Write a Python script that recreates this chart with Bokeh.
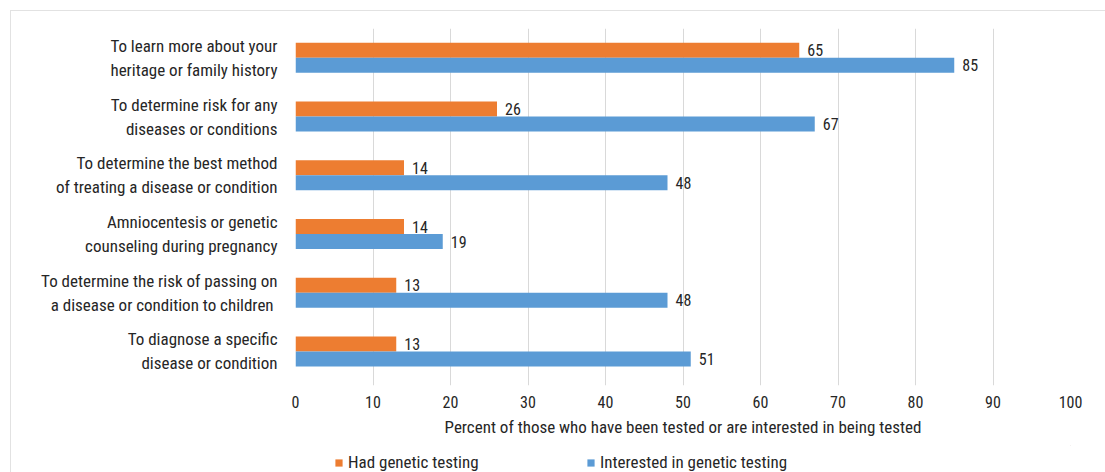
from bokeh.plotting import figure
from bokeh.layouts import column
from bokeh.models import ColumnDataSource, Range1d, FixedTicker, Legend, LegendItem, LabelSet
from bokeh.transform import dodge
from bokeh.core.properties import value
from bokeh.embed import file_html
from bokeh.resources import INLINE

categories = [
    "To learn more about your\nheritage or family history",
    "To determine risk for any\ndiseases or conditions",
    "To determine the best method\nof treating a disease or condition",
    "Amniocentesis or genetic\ncounseling during pregnancy",
    "To determine the risk of passing on\na disease  or condition to children",
    "To diagnose a specific\ndisease or condition",
]
had = [65, 26, 14, 14, 13, 13]
interested = [85, 67, 48, 19, 48, 51]
series_names = ["Had genetic testing", "Interested in genetic testing"]
colors = ["#ED7D31", "#5B9BD5"]
x_ticks = [0, 10, 20, 30, 40, 50, 60, 70, 80, 90, 100]
x_title = "Percent of those who have been tested or are interested in being tested"

FONT = "Liberation Sans Narrow, Roboto Condensed, Roboto"
TXT = "#262626"
BORDER = "#e2e2e2"

idx = list(range(len(categories)))
src = ColumnDataSource(dict(
    y=idx, had=had, interested=interested,
    had_lbl=[str(v) for v in had], int_lbl=[str(v) for v in interested],
))

p = figure(width=1105, height=445, output_backend="svg", toolbar_location=None,
           x_range=Range1d(0, 100), y_range=Range1d(5.58, -0.5),
           min_border_left=295, min_border_right=35, min_border_top=28, min_border_bottom=60)
p.outline_line_color = None
p.background_fill_color = "white"
p.border_fill_alpha = 0
p.styles = {"background": (f"linear-gradient({BORDER},{BORDER}) 10px 10px / 1px 100% no-repeat, "
                           f"linear-gradient({BORDER},{BORDER}) 10px 10px / 100% 1px no-repeat, white")}

bh = 0.2555
off = 0.1278
r1 = p.hbar(y=dodge("y", -off, range=p.y_range), right="had", left=0, height=bh,
            source=src, fill_color=colors[0], line_color=None)
r2 = p.hbar(y=dodge("y", off, range=p.y_range), right="interested", left=0, height=bh,
            source=src, fill_color=colors[1], line_color=None)

for col, lcol, o in [("had", "had_lbl", -off), ("interested", "int_lbl", off)]:
    ls = LabelSet(x=col, y=dodge("y", o, range=p.y_range), text=lcol, source=src,
                  x_offset=8, text_align="left", text_baseline="middle",
                  text_font=value(FONT), text_font_size=value("16px"), text_color=TXT)
    p.add_layout(ls)

p.xaxis.ticker = FixedTicker(ticks=x_ticks)
p.xaxis.axis_line_color = None
p.xaxis.major_tick_line_color = None
p.xaxis.minor_tick_line_color = None
p.xaxis.major_label_text_font = FONT
p.xaxis.major_label_text_font_size = "16px"
p.xaxis.major_label_text_color = TXT
p.xaxis.major_label_standoff = 4
p.xaxis.axis_label = x_title
p.xaxis.axis_label_text_font = FONT
p.xaxis.axis_label_text_font_size = "17px"
p.xaxis.axis_label_text_font_style = "normal"
p.xaxis.axis_label_text_color = TXT
p.xaxis.axis_label_standoff = 6

p.yaxis.ticker = FixedTicker(ticks=idx)
p.yaxis.major_label_overrides = {i: c for i, c in zip(idx, categories)}
p.yaxis.axis_line_color = None
p.yaxis.major_tick_line_color = None
p.yaxis.minor_tick_line_color = None
p.yaxis.major_label_text_font = FONT
p.yaxis.major_label_text_font_size = "17px"
p.yaxis.major_label_text_color = TXT
p.yaxis.major_label_standoff = 12

p.xgrid.grid_line_color = "#d9d9d9"
p.ygrid.grid_line_color = None

# legend strip below the chart (its frame is aligned with the main chart's frame)
p2 = figure(width=1105, height=27, output_backend="svg", toolbar_location=None,
            x_range=Range1d(0, 1), y_range=Range1d(0, 1), x_axis_type=None, y_axis_type=None,
            min_border=0)
p2.outline_line_color = None
p2.grid.visible = False
p2.background_fill_color = "white"
p2.border_fill_alpha = 0
p2.styles = {"background": f"linear-gradient({BORDER},{BORDER}) 10px 0px / 1px 100% no-repeat, white"}
hidden = ColumnDataSource(dict(y=[5], right=[5]))
lr1 = p2.hbar(y="y", right="right", left=4, height=0.5, source=hidden, fill_color=colors[0], line_color=None)
lr2 = p2.hbar(y="y", right="right", left=4, height=0.5, source=hidden, fill_color=colors[1], line_color=None)
for r, name, xloc in [(lr1, series_names[0], 39), (lr2, series_names[1], 291)]:
    lg = Legend(items=[LegendItem(label=name, renderers=[r])], location=(xloc, 0),
                orientation="horizontal", padding=0, margin=0, spacing=0,
                glyph_width=9, glyph_height=9, label_standoff=5, label_height=9,
                label_text_font=FONT, label_text_font_size="17px", label_text_color=TXT,
                border_line_color=None, background_fill_alpha=0)
    p2.add_layout(lg)

layout = column(p, p2, spacing=0)
open("out.html", "w").write(file_html(layout, INLINE))
